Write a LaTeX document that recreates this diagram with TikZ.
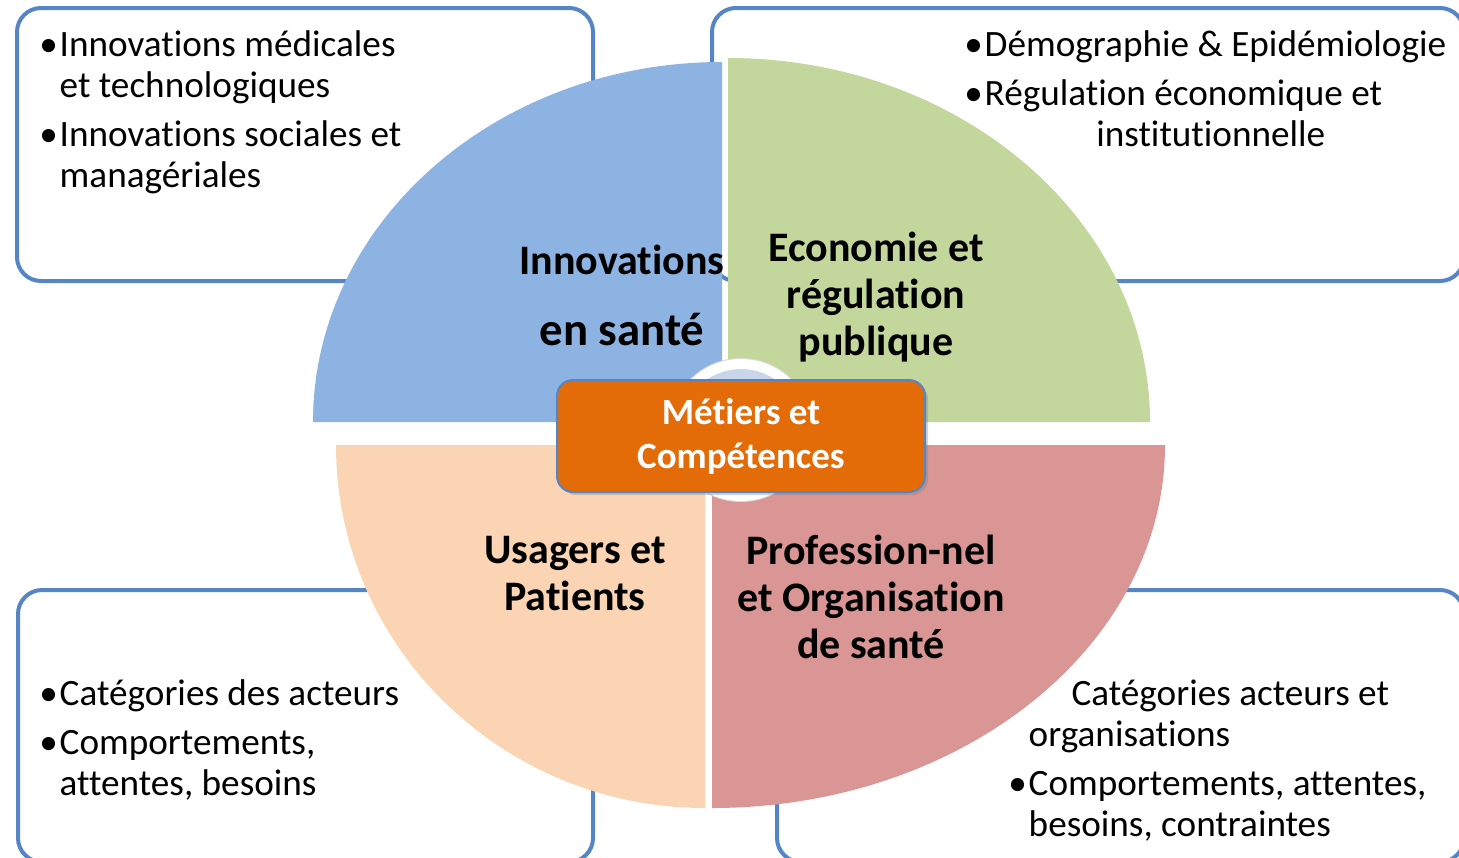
\documentclass[tikz,border=0pt]{standalone}
\usepackage{fontspec}
\setmainfont{Carlito}[RawFeature={-liga;-clig;-calt;-dlig;-rlig}]
\usepackage{xcolor}
\usetikzlibrary{shadows}

\definecolor{frameblue}{HTML}{5585C5}
\definecolor{quadblue}{HTML}{8DB3E2}
\definecolor{quadgreen}{HTML}{C3D69B}
\definecolor{quadpeach}{HTML}{FBD4B4}
\definecolor{quadred}{HTML}{D99694}
\definecolor{huborange}{HTML}{E36C09}
\definecolor{hubdisc}{HTML}{A9BCDB}

\newcommand{\bul}{\makebox[0.6em][c]{\textbullet}}
\newcommand{\ind}{\hspace*{0.6em}}

\begin{document}
\begin{tikzpicture}[x=0.5pt,y=-0.5pt,
    infobox/.style={draw=frameblue, line width=2pt, rounded corners=12pt},
    bodytext/.style={anchor=north west, inner sep=0pt, align=left,
      font=\fontsize{18.6}{20.5}\selectfont},
    quadlabel/.style={inner sep=0pt, align=center,
      font=\bfseries\fontsize{21}{23.5}\selectfont},
    hub/.style={fill=huborange, draw=frameblue, line width=1pt,
      rounded corners=8pt, minimum width=184pt, minimum height=56pt,
      text=white, align=center, font=\bfseries\fontsize{18.5}{22}\selectfont,
      drop shadow={opacity=0.35, shadow xshift=1.5pt, shadow yshift=-1.5pt}}]
    \useasboundingbox (0,0) rectangle (1459,857);
    \clip (0,0) rectangle (1459,857);

    % Frames behind the circle
    \draw[infobox] (17,8) rectangle (593,281);
    \draw[infobox] (712,8) rectangle (1464,281);
    \draw[infobox] (18,590) rectangle (593,862);
    \draw[infobox] (777,590) rectangle (1464,862);

    % Four quarters
    \fill[quadblue] (722,422) -- (722,62) arc[start angle=-90, end angle=-180, x radius=409, y radius=360] -- cycle;
    \fill[quadgreen] (728,422) -- (728,58) arc[start angle=-90, end angle=0, x radius=422, y radius=364] -- cycle;
    \fill[quadpeach] (705,445) -- (705,808) arc[start angle=90, end angle=180, x radius=369, y radius=363] -- cycle;
    \fill[quadred] (712,445) -- (712,808) arc[start angle=90, end angle=0, x radius=453, y radius=363] -- cycle;

    % Disc and centre box
    \draw[black!15, line width=1pt] (741,430) circle[radius=71];
    \draw[white, line width=5pt, top color=hubdisc!60, bottom color=hubdisc] (741,430) circle[radius=66];
    \node[hub] (metiers) at (741,436) {Métiers et\\Compétences};

    % Quarter labels
    \node[quadlabel] (innov) at (622,295) {Innovations\\[12pt]{\fontsize{23.4}{26}\selectfont en santé}};
    \node[quadlabel] (econ) at (876,297) {Economie et\\régulation\\publique};
    \node[quadlabel] (usagers) at (575,574) {Usagers et\\Patients};
    \node[quadlabel] (prof) at (871,597) {Profession-nel\\et Organisation\\de santé};

    % Frame texts
    \node[bodytext] (innovlist) at (37,30) {\bul Innovations médicales\\\ind et technologiques\\[4pt]\bul Innovations sociales et\\\ind managériales};
    \node[bodytext] (econlist) at (962,30) {\bul Démographie \& Epidémiologie\\[4pt]\bul Régulation économique et\\\hspace*{3.6em}institutionnelle};
    \node[bodytext] (usagerlist) at (37,679) {\bul Catégories des acteurs\\[4pt]\bul Comportements,\\\ind attentes, besoins};
    \node[bodytext] (proflist) at (1006,679) {\ind\hspace*{1.15em}Catégories acteurs et\\\ind organisations\\[4pt]\bul Comportements, attentes,\\\ind besoins, contraintes};
\end{tikzpicture}
\end{document}
